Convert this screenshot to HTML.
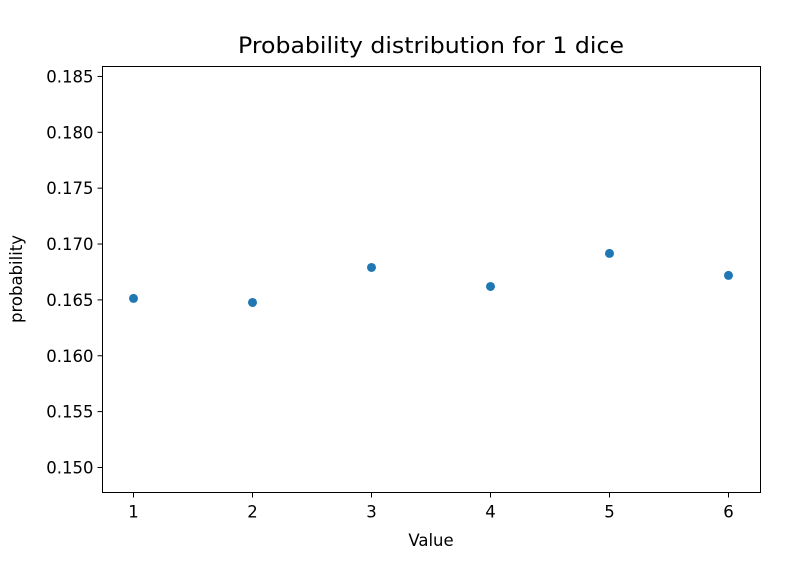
<!DOCTYPE html>
<html><head><meta charset="utf-8"><style>
html,body{margin:0;padding:0;background:#fff;}
svg{display:block;font-family:"DejaVu Sans","Liberation Sans",sans-serif;}
</style></head><body>
<svg id="chart" width="812" height="572" viewBox="0 0 812 572">
<rect x="0" y="0" width="812" height="572" fill="#fff"/>
<text x="431" y="53" font-size="22" text-anchor="middle" textLength="386" lengthAdjust="spacingAndGlyphs">Probability distribution for 1 dice</text>
<text x="431" y="546" font-size="16.5" text-anchor="middle">Value</text>
<text transform="translate(22,279) rotate(-90)" font-size="16.5" text-anchor="middle">probability</text>
<g id="ticks"></g>
<g id="points"></g>
<rect x="102.5" y="66.5" width="658" height="426" fill="none" stroke="#000" stroke-width="1"/>
</svg>
<script>
const categories = [1, 2, 3, 4, 5, 6];
const probabilities = [0.16513, 0.16477, 0.16790, 0.16620, 0.16916, 0.16719];
const xTickLabels = ["1", "2", "3", "4", "5", "6"];
const yTickValues = [0.150, 0.155, 0.160, 0.165, 0.170, 0.175, 0.180, 0.185];

const L = 102.5, R = 760.5, T = 66.5, B = 492.5;
const xMin = 0.7395, xMax = 6.269, yMin = 0.14776, yMax = 0.18589;
function xs(v){ return L + (v - xMin) / (xMax - xMin) * (R - L); }
function ys(v){ return B - (v - yMin) / (yMax - yMin) * (B - T); }
const NS = "http://www.w3.org/2000/svg";
const tg = document.getElementById('ticks');
const pg = document.getElementById('points');

categories.forEach((c, i) => {
  const x = xs(c);
  const ln = document.createElementNS(NS, 'line');
  ln.setAttribute('x1', x); ln.setAttribute('x2', x);
  ln.setAttribute('y1', B); ln.setAttribute('y2', B + 5);
  ln.setAttribute('stroke', '#000');
  
  
  tg.appendChild(ln);
  const t = document.createElementNS(NS, 'text');
  t.setAttribute('x', x); t.setAttribute('y', B + 25);
  t.setAttribute('font-size', '16.5'); t.setAttribute('text-anchor', 'middle');
  t.textContent = xTickLabels[i];
  
  
  tg.appendChild(t);
});

yTickValues.forEach(v => {
  const y = ys(v);
  const ln = document.createElementNS(NS, 'line');
  ln.setAttribute('x1', L - 5); ln.setAttribute('x2', L);
  ln.setAttribute('y1', y); ln.setAttribute('y2', y);
  ln.setAttribute('stroke', '#000');
  
  
  tg.appendChild(ln);
  const t = document.createElementNS(NS, 'text');
  t.setAttribute('x', L - 9); t.setAttribute('y', y + 6);
  t.setAttribute('font-size', '16.5'); t.setAttribute('text-anchor', 'end');
  t.textContent = v.toFixed(3);
  
  
  tg.appendChild(t);
});

categories.forEach((c, i) => {
  const p = document.createElementNS(NS, 'circle');
  p.setAttribute('cx', xs(c)); p.setAttribute('cy', ys(probabilities[i]));
  p.setAttribute('r', 4.5); p.setAttribute('fill', '#1f77b4');
  
  
  pg.appendChild(p);
});
</script>
</body></html>
